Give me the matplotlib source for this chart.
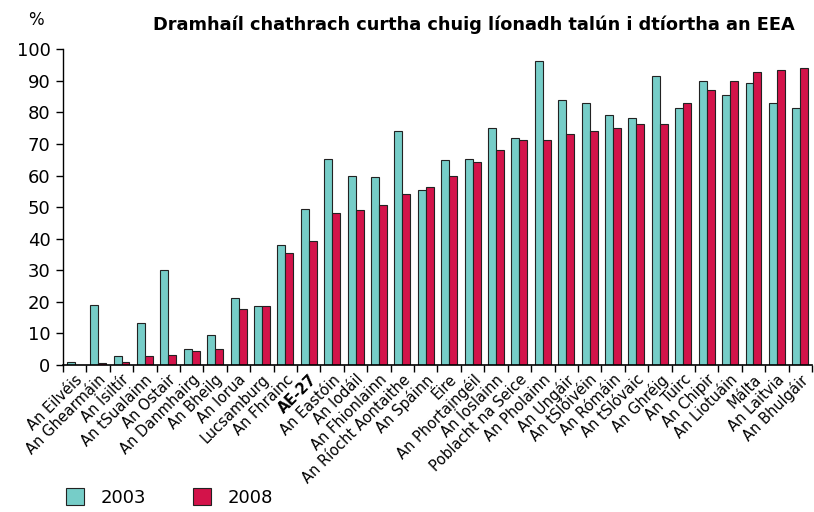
import matplotlib.pyplot as plt
import numpy as np

countries = ['An Eilvéis', 'An Ghearmáin', 'An Ísiltír', 'An tSualainn', 'An Ostair',
             'An Danmhairg', 'An Bheilg', 'An Iorua', 'Lucsamburg', 'An Fhrainc',
             'AE-27', 'An Eastóin', 'An Iodáil', 'An Fhionlainn', 'An Ríocht Aontaithe',
             'An Spáinn', 'Éire', 'An Phortaingéil', 'An Íoslainn', 'Poblacht na Seice',
             'An Pholainn', 'An Ungáir', 'An tSlóivéin', 'An Rómáin', 'An tSlóvaic',
             'An Ghréig', 'An Tuirc', 'An Chipir', 'An Liotuáin', 'Málta',
             'An Laitvia', 'An Bhulgáir']
v2003 = [1.1, 18.9, 2.9, 13.4, 30.0, 5.0, 9.4, 21.3, 18.7, 37.9,
         49.3, 65.3, 59.8, 59.5, 74.0, 55.3, 65.0, 65.3, 75.0, 71.8,
         96.3, 84.0, 83.1, 79.1, 78.1, 91.6, 81.4, 89.9, 85.4, 89.3,
         83.1, 81.4]
v2008 = [0.0, 0.5, 1.1, 2.9, 3.2, 4.3, 5.0, 17.7, 18.7, 35.6,
         39.4, 48.1, 49.0, 50.8, 54.3, 56.5, 59.8, 64.2, 68.2, 71.2,
         71.2, 73.2, 74.0, 75.1, 76.4, 76.4, 82.9, 87.0, 89.9, 92.8,
         93.3, 94.0]
years = ['2003', '2008']

teal = '#76CDC8'
red = '#D3134A'

fig = plt.figure(figsize=(8.14, 5.12), dpi=100)
ax = fig.add_axes([63/814, 147/512, 749/814, 315.7/512])

x = np.arange(len(countries))
w = 0.34
b1 = ax.bar(x - w/2, v2003, w, color=teal, edgecolor='#222222', linewidth=0.8, label=years[0])
b2 = ax.bar(x + w/2, v2008, w, color=red, edgecolor='#222222', linewidth=0.8, label=years[1])

ax.set_xlim(-0.5, len(countries) - 0.5)
ax.set_ylim(0, 100)
ax.set_yticks(range(0, 101, 10))
ax.tick_params(axis='y', labelsize=13, length=5, width=1, pad=4)
ax.set_xticks(x)
ax.set_xticklabels(countries, rotation=45, ha='right', rotation_mode='anchor', fontsize=10.5)
ax.tick_params(axis='x', length=0, pad=5)
ax.set_xticks(np.arange(-0.5, len(countries), 1), minor=True)
ax.tick_params(axis='x', which='minor', length=5, width=1)
for lab in ax.get_xticklabels():
    if lab.get_text() == 'AE-27':
        lab.set_fontweight('bold')

for s in ['top', 'right']:
    ax.spines[s].set_visible(False)
ax.spines['left'].set_linewidth(1)
ax.spines['bottom'].set_linewidth(1.2)

fig.text(28/814, 1 - 20/512, '%', fontsize=12, va='center')
fig.text(795/814, 1 - 25/512, 'Dramhaíl chathrach curtha chuig líonadh talún i dtíortha an EEA',
         fontsize=12.8, fontweight='bold', ha='right', va='center')

leg = fig.legend(handles=[b1, b2], labels=years, loc='lower left', bbox_to_anchor=(50/814, -11/512),
                 ncol=2, frameon=False, fontsize=13, handlelength=1.0, handleheight=1.0,
                 columnspacing=2.6, handletextpad=0.9)

fig.savefig('out.png', dpi=100)
